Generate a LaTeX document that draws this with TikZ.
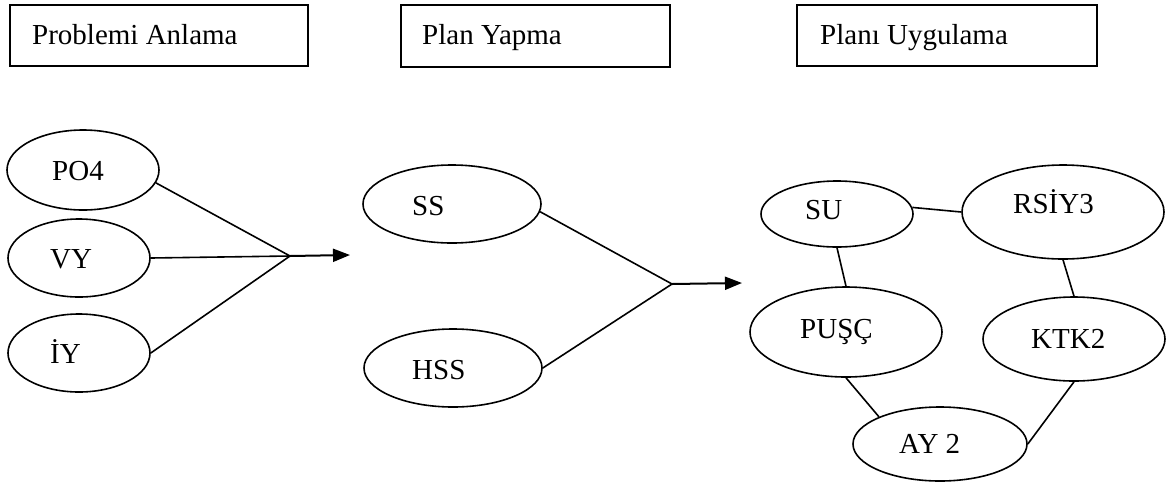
\documentclass[tikz,border=0pt]{standalone}
\usepackage{fontspec}
\setmainfont{Liberation Serif}
\usetikzlibrary{shapes.geometric,arrows.meta}

\tikzset{
  stagebox/.style={draw, line width=2.6pt, rectangle, inner sep=0pt},
  oval/.style={draw, line width=1.6pt, ellipse, inner sep=0pt},
  txt/.style={anchor=base west, inner sep=0pt, font=\fontsize{29}{34}\selectfont},
  link/.style={line width=1.6pt},
  flow/.style={line width=2pt, -{Triangle[length=17pt,width=13pt]}}
}

\begin{document}
\begin{tikzpicture}[x=1pt, y=-1pt]
\useasboundingbox (0,0) rectangle (1173,483);

% stage headers
\node[stagebox, minimum width=298pt, minimum height=61pt] (b1) at (159,35.5) {};
\node[stagebox, minimum width=269pt, minimum height=62pt] (b2) at (535.5,36) {};
\node[stagebox, minimum width=300pt, minimum height=61pt] (b3) at (947,35.5) {};
\node[txt] (t1) at (32,44) {Problemi Anlama};
\node[txt] (t2) at (422,44) {Plan Yapma};
\node[txt] (t3) at (820,44) {Planı Uygulama};

% understanding the problem
\node[oval, minimum width=152pt, minimum height=80pt] (po4) at (83,170) {};
\node[oval, minimum width=142pt, minimum height=78pt] (vy) at (79,258) {};
\node[oval, minimum width=142pt, minimum height=78pt] (iy) at (79,353) {};
\node[txt] (po4t) at (52,180) {PO4};
\node[txt] (vyt) at (50,268) {VY};
\node[txt] (iyt) at (50,363) {İY};
\coordinate (j1) at (290,256);
\coordinate (a1) at (350,255);
\draw[link] (po4.-10) -- (j1);
\draw[link] (vy.east) -- (j1);
\draw[link] (iy.east) -- (j1);
\draw[flow] (j1) -- (a1);

% making a plan
\node[oval, minimum width=178pt, minimum height=78pt] (ss) at (452,204) {};
\node[oval, minimum width=178pt, minimum height=78pt] (hss) at (453,368) {};
\node[txt] (sst) at (412,215) {SS};
\node[txt] (hsst) at (412,379) {HSS};
\coordinate (j2) at (672,284);
\coordinate (a2) at (742,283);
\draw[link] (ss.-5) -- (j2);
\draw[link] (hss.east) -- (j2);
\draw[flow] (j2) -- (a2);

% carrying out the plan
\node[oval, minimum width=152pt, minimum height=66pt] (su) at (837,214) {};
\node[oval, minimum width=202pt, minimum height=94pt] (rs) at (1063,212) {};
\node[oval, minimum width=192pt, minimum height=90pt] (pu) at (846,332) {};
\node[oval, minimum width=182pt, minimum height=84pt] (kt) at (1074,339) {};
\node[oval, minimum width=174pt, minimum height=74pt] (ay) at (940,444) {};
\node[txt] (sut) at (805,219) {SU};
\node[txt] (rst) at (1013,213) {RSİY3};
\node[txt] (put) at (800,338) {PUŞÇ};
\node[txt] (ktt) at (1031,348) {KTK2};
\node[txt] (ayt) at (899,453) {AY 2};
\draw[link] (su.5) -- (rs.west);
\draw[link] (su.south) -- (pu.north);
\draw[link] (rs.south) -- (kt.north);
\draw[link] (pu.south) -- (ay.156);
\draw[link] (kt.south) -- (ay.east);
\end{tikzpicture}
\end{document}
